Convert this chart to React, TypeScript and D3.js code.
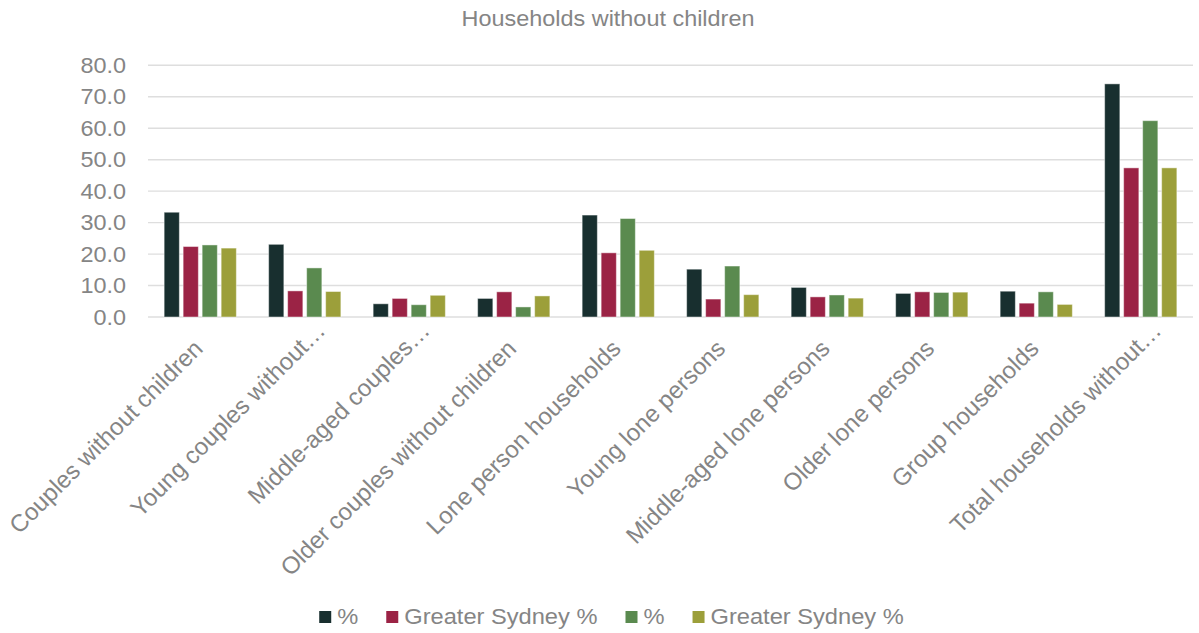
import React, { useEffect, useRef } from "react";
import * as d3 from "d3";

// Household categories along the x axis
const categories: string[] = [
  "Couples without children",
  "Young couples without…",
  "Middle-aged couples…",
  "Older couples without children",
  "Lone person households",
  "Young lone persons",
  "Middle-aged lone persons",
  "Older lone persons",
  "Group households",
  "Total households without…",
];

// Series names shown in the legend
const seriesNames: string[] = ["%", "Greater Sydney %", "%", "Greater Sydney %"];

// Values per series (percent of households)
const series1: number[] = [33.3, 23.1, 4.2, 5.9, 32.4, 15.2, 9.4, 7.5, 8.2, 74.1];
const series2: number[] = [22.4, 8.3, 5.9, 8.0, 20.4, 5.7, 6.4, 8.0, 4.4, 47.4];
const series3: number[] = [22.9, 15.6, 3.9, 3.2, 31.3, 16.2, 7.0, 7.8, 8.0, 62.4];
const series4: number[] = [21.9, 8.1, 6.9, 6.7, 21.2, 7.1, 6.0, 7.9, 4.0, 47.4];

// Y axis ticks
const yTicks: number[] = [0, 10, 20, 30, 40, 50, 60, 70, 80];

const colors = ["#182f2f", "#9b2345", "#5a8a4f", "#9c9f3a"];

const W = 1199;
const H = 633;
const FONT = "'Liberation Sans', Arial, sans-serif";
const TEXT = "#858585";
const FS = 21.5;
const SX = 1.09; // horizontal stretch applied to horizontal text
const LABEL_FS = 24;

export default function App() {
  const ref = useRef<SVGSVGElement | null>(null);

  useEffect(() => {
    const svg = d3.select(ref.current);
    svg.selectAll("*").remove();

    const allSeries = [series1, series2, series3, series4];
    const keys = allSeries.map((_, i) => i);

    const x0 = d3
      .scaleBand<string>()
      .domain(categories)
      .range([148, 1193])
      .paddingInner(0.309)
      .paddingOuter(0.1545);
    const x1 = d3
      .scaleBand<number>()
      .domain(keys)
      .range([0, x0.bandwidth()])
      .paddingInner(0.2)
      .paddingOuter(0);
    const y = d3.scaleLinear().domain([0, 80]).range([317, 65.3]);

    // Title
    svg
      .append("text")
      .attr("transform", `translate(608,26) scale(${SX},1)`)
      .attr("text-anchor", "middle")
      .attr("font-family", FONT)
      .attr("font-size", FS)
      .attr("fill", TEXT)
      .text("Households without children");

    // Gridlines
    svg
      .append("g")
      .selectAll("line")
      .data(yTicks)
      .join("line")
      .attr("x1", 148)
      .attr("x2", 1193)
      .attr("y1", (d) => y(d))
      .attr("y2", (d) => y(d))
      .attr("stroke", "#dedede")
      .attr("stroke-width", 1.4);

    // Y tick labels
    svg
      .append("g")
      .selectAll("text")
      .data(yTicks)
      .join("text")
      .attr("transform", (d) => `translate(126,${y(d) + 7.7}) scale(${SX},1)`)
      .attr("text-anchor", "end")
      .attr("font-family", FONT)
      .attr("font-size", FS)
      .attr("fill", TEXT)
      .text((d) => d3.format(".1f")(d));

    // Bars
    const groups = svg
      .append("g")
      .selectAll("g")
      .data(categories)
      .join("g")
      .attr("transform", (c) => `translate(${x0(c)},0)`);

    groups
      .selectAll("rect")
      .data((_, ci) => keys.map((k) => ({ k, v: allSeries[k][ci] })))
      .join("rect")
      .attr("x", (d) => x1(d.k)!)
      .attr("y", (d) => y(d.v))
      .attr("width", x1.bandwidth())
      .attr("height", (d) => y(0) - y(d.v))
      .attr("fill", (d) => colors[d.k])
      .attr("stroke", "#ffffff")
      .attr("stroke-opacity", 0.45)
      .attr("stroke-width", 1);

    // Category labels, rotated 45 degrees
    svg
      .append("g")
      .selectAll("text")
      .data(categories)
      .join("text")
      .attr("transform", (c) => {
        const cx = x0(c)! + x0.bandwidth() / 2 + 4;
        const shift = c.endsWith("…") ? 18 : 0;
        return `translate(${cx + shift},${350 - shift}) rotate(-45)`;
      })
      .attr("text-anchor", "end")
      .attr("font-family", FONT)
      .attr("font-size", LABEL_FS)
      .attr("fill", TEXT)
      .text((c) => c);

    // Legend
    const LSX = 1.1;
    const legend = svg.append("g");
    const items = legend.selectAll("g").data(seriesNames).join("g");
    items
      .append("rect")
      .attr("width", 12)
      .attr("height", 12)
      .attr("y", 611)
      .attr("fill", (_, i) => colors[i]);
    items
      .append("text")
      .attr("font-family", FONT)
      .attr("font-size", FS)
      .attr("fill", TEXT)
      .text((d) => d);

    let cursor = 0;
    const positions: number[] = [];
    items.each(function () {
      const t = d3.select(this).select("text").node() as SVGTextElement;
      const w = t.getComputedTextLength() * LSX;
      positions.push(cursor);
      cursor += 12 + 6 + w + 28;
    });
    const total = cursor - 28;
    const start = 611.5 - total / 2;
    items.each(function (_, i) {
      const g = d3.select(this);
      const x = start + positions[i];
      g.select("rect").attr("x", x);
      g.select("text").attr("transform", `translate(${x + 18},624.3) scale(${LSX},1)`);
    });
  }, []);

  return (
    <div style={{ position: "absolute", left: 0, top: 0 }}>
      <svg ref={ref} width={W} height={H} style={{ display: "block", background: "#ffffff" }} />
    </div>
  );
}
